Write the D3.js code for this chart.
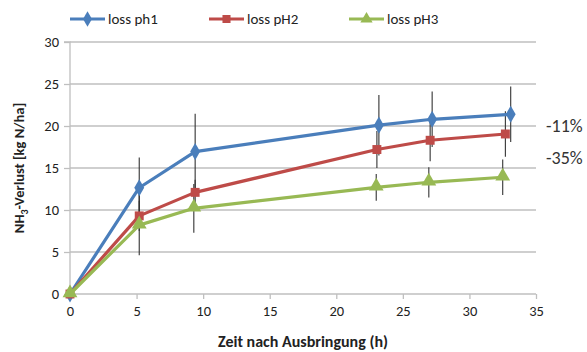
<!DOCTYPE html>
<html><head><meta charset="utf-8">
<script src="https://cdn.jsdelivr.net/npm/d3@7"></script>
<style>
body{margin:0;background:#fff;}
svg text{font-family:Carlito,Lato,"Liberation Sans",sans-serif;fill:#222;}
</style></head>
<body><svg id="c" width="587" height="352"></svg>
<script>
const seriesNames = ["loss ph1", "loss pH2", "loss pH3"];
const time1 = [0, 5.2, 9.4, 23.2, 27.2, 33.1];
const loss1 = [0, 12.65, 16.95, 20.1, 20.8, 21.4];
const err1  = [0, 3.6, 4.5, 3.6, 3.3, 3.3];
const time2 = [0, 5.2, 9.4, 23.05, 27.05, 32.7];
const loss2 = [0, 9.3, 12.1, 17.2, 18.3, 19.05];
const err2  = [0, 1.8, 1.5, 2.2, 2.5, 2.7];
const time3 = [0, 5.2, 9.3, 23.0, 26.95, 32.5];
const loss3 = [0, 8.2, 10.2, 12.7, 13.3, 13.9];
const err3  = [0, 3.6, 2.9, 1.6, 1.8, 2.1];
const xTicks = [0, 5, 10, 15, 20, 25, 30, 35];
const yTicks = [0, 5, 10, 15, 20, 25, 30];
const annotations = [{text: "-11%", y: 20}, {text: "-35%", y: 16.2}];

const colors = ["#4A7EBB", "#BE4B48", "#98B954"];
const symbols = [d3.symbolDiamond, d3.symbolSquare, d3.symbolTriangle];
const series = [
  {name: seriesNames[0], t: time1, v: loss1, e: err1},
  {name: seriesNames[1], t: time2, v: loss2, e: err2},
  {name: seriesNames[2], t: time3, v: loss3, e: err3}
];

const svg = d3.select("#c");
const x = d3.scaleLinear().domain([0, 35]).range([70, 536]);
const y = d3.scaleLinear().domain([0, 30]).range([294, 42]);

svg.append("g").selectAll("line").data(yTicks.filter(d => d > 0)).join("line")
  .attr("x1", x(0)).attr("x2", x(35)).attr("y1", d => y(d)).attr("y2", d => y(d))
  .attr("stroke", "#BFBFBF").attr("stroke-width", 1.3);

const ya = svg.append("g").attr("transform", `translate(${x(0)},0)`)
  .call(d3.axisLeft(y).tickValues(yTicks).tickSize(6).tickPadding(5));
ya.select(".domain").attr("stroke", "#BFBFBF").attr("stroke-width", 1.3).attr("d", `M-6,${y(30)}H0V${y(0)}`);
ya.selectAll(".tick line").attr("stroke", "#BFBFBF").attr("stroke-width", 1.3);
ya.selectAll(".tick text").attr("font-size", 14.5).style("fill", "#222");

const xa = svg.append("g").attr("transform", `translate(0,${y(0)})`)
  .call(d3.axisBottom(x).tickValues(xTicks).tickSize(5).tickPadding(7));
xa.select(".domain").attr("stroke", "#BFBFBF").attr("stroke-width", 1.3).attr("d", `M${x(0)},0H${x(35)}`);
xa.selectAll(".tick line").attr("stroke", "#BFBFBF").attr("stroke-width", 1.3);
xa.selectAll(".tick text").attr("font-size", 14.5).style("fill", "#222");

series.forEach((s) => {
  svg.append("g").selectAll("line").data(s.t.map((t, i) => ({t, v: s.v[i], e: s.e[i]})).filter(d => d.e > 0)).join("line")
    .attr("x1", d => x(d.t)).attr("x2", d => x(d.t))
    .attr("y1", d => y(d.v + d.e)).attr("y2", d => y(d.v - d.e))
    .attr("stroke", "#333").attr("stroke-width", 1.1);
});

const line = d3.line().x(d => x(d.t)).y(d => y(d.v));
series.forEach((s, k) => {
  const pts = s.t.map((t, i) => ({t, v: s.v[i]}));
  svg.append("path").datum(pts).attr("d", line).attr("fill", "none")
    .attr("stroke", colors[k]).attr("stroke-width", 3.2).attr("stroke-linejoin", "round");
  svg.append("g").selectAll("path").data(pts).join("path")
    .attr("transform", d => `translate(${x(d.t)},${y(d.v) + (k === 2 ? -1 : 0)})`)
    .attr("d", d3.symbol().type(symbols[k]).size(k === 0 ? 85 : (k === 1 ? 80 : 95)))
    .attr("fill", colors[k]);
});

svg.append("g").selectAll("text").data(annotations).join("text")
  .attr("x", 546).attr("y", d => y(d.y)).attr("dy", "0.35em")
  .attr("font-size", 18).style("fill", "#333").text(d => d.text);

const legX = [70, 209, 349];
const lg = svg.append("g").selectAll("g").data(series).join("g")
  .attr("transform", (d, i) => `translate(${legX[i]},19)`);
lg.append("line").attr("x1", 0).attr("x2", 35).attr("y1", 0).attr("y2", 0)
  .attr("stroke", (d, i) => colors[i]).attr("stroke-width", 3.2);
lg.append("path").attr("transform", "translate(17.5,0)")
  .attr("d", (d, i) => d3.symbol().type(symbols[i]).size(i === 0 ? 70 : 65)())
  .attr("fill", (d, i) => colors[i]);
lg.append("text").attr("x", 38).attr("dy", "0.35em").attr("font-size", 15)
  .text(d => d.name);

svg.append("text").attr("x", (x(0) + x(35)) / 2).attr("y", 347)
  .attr("text-anchor", "middle").attr("font-size", 16).attr("font-weight", "bold")
  .text("Zeit nach Ausbringung (h)");
const yt = svg.append("text").attr("transform", `translate(24,${y(15)}) rotate(-90)`)
  .attr("text-anchor", "middle").attr("font-size", 14.5).attr("font-weight", "bold");
yt.append("tspan").text("NH");
yt.append("tspan").attr("font-size", 10).attr("dy", 4).text("3");
yt.append("tspan").attr("dy", -4).text("-Verlust [kg N/ha]");
</script></body></html>
